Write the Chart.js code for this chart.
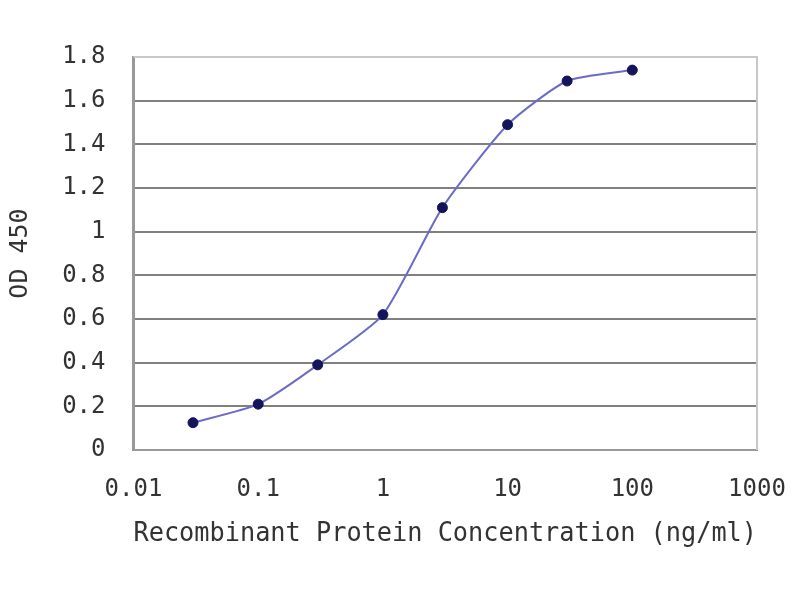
<!DOCTYPE html>
<html>
<head>
<meta charset="utf-8">
<script src="https://cdn.jsdelivr.net/npm/chart.js@4.4.0/dist/chart.umd.min.js"></script>
<style>
  html, body { margin: 0; padding: 0; background: #fff; }
  #wrap { width: 800px; height: 600px; }
</style>
</head>
<body>
<div id="wrap"><canvas id="chart" width="800" height="600"></canvas></div>
<script>
// Recombinant protein concentration (ng/ml) vs OD 450
const concentrations = [0.03, 0.1, 0.3, 1, 3, 10, 30, 100];
const odValues = [0.125, 0.21, 0.39, 0.62, 1.11, 1.49, 1.69, 1.74];
const xTicks = [0.01, 0.1, 1, 10, 100, 1000];
const yTicks = [0, 0.2, 0.4, 0.6, 0.8, 1, 1.2, 1.4, 1.6, 1.8];

const fontFamily = "'DejaVu Sans Mono', monospace";
const textColor = '#333333';

// light grey top and right edge of the plot box
const frame = {
    id: 'frame',
    beforeDatasetsDraw(chart) {
        const { ctx, chartArea: a } = chart;
        ctx.save();
        ctx.strokeStyle = '#c8c8c8';
        ctx.lineWidth = 2;
        ctx.beginPath();
        ctx.moveTo(a.left, a.top);
        ctx.lineTo(a.right, a.top);
        ctx.lineTo(a.right, a.bottom);
        ctx.stroke();
        ctx.restore();
    }
};

new Chart(document.getElementById('chart'), {
    type: 'line',
    data: {
        datasets: [{
            data: concentrations.map((c, i) => ({ x: c, y: odValues[i] })),
            borderColor: '#6c6cc8',
            borderWidth: 2,
            tension: 0.2,
            pointRadius: 5,
            pointBackgroundColor: '#14145a',
            pointBorderColor: '#14145a',
            pointBorderWidth: 1
        }]
    },
    options: {
        responsive: false,
        animation: false,
        layout: { padding: { left: 5, right: 43, top: 57, bottom: 50 } },
        plugins: { legend: { display: false }, tooltip: { enabled: false } },
        scales: {
            x: {
                type: 'logarithmic',
                min: 0.01,
                max: 1000,
                afterBuildTicks: (s) => { s.ticks = xTicks.map(v => ({ value: v })); },
                afterFit: (s) => { s.height = 100; s.paddingLeft = 0; s.paddingRight = 0; },
                grid: { display: false, drawTicks: false },
                border: { display: true, color: '#999999', width: 2 },
                ticks: {
                    padding: 25,
                    color: textColor,
                    font: { family: fontFamily, size: 24 },
                    callback: (v) => String(v),
                    maxRotation: 0,
                    autoSkip: false
                },
                title: {
                    display: true,
                    text: 'Recombinant Protein Concentration (ng/ml)',
                    color: textColor,
                    padding: 0,
                    font: { family: fontFamily, size: 26, lineHeight: 1.2 }
                }
            },
            y: {
                min: 0,
                max: 1.8,
                afterBuildTicks: (s) => { s.ticks = yTicks.map(v => ({ value: v })); },
                afterFit: (s) => { s.width = 128.5; },
                grid: {
                    drawTicks: false,
                    lineWidth: 2,
                    color: (c) => c.index === yTicks.length - 1 ? '#c8c8c8' : '#808080'
                },
                border: { display: true, color: '#999999', width: 3 },
                ticks: {
                    padding: 28,
                    color: textColor,
                    font: { family: fontFamily, size: 24 },
                    callback: (v) => String(v)
                },
                title: {
                    display: true,
                    text: 'OD 450',
                    color: textColor,
                    padding: 0,
                    font: { family: fontFamily, size: 25, lineHeight: 1.2 }
                }
            }
        }
    },
    plugins: [frame]
});
</script>
</body>
</html>
